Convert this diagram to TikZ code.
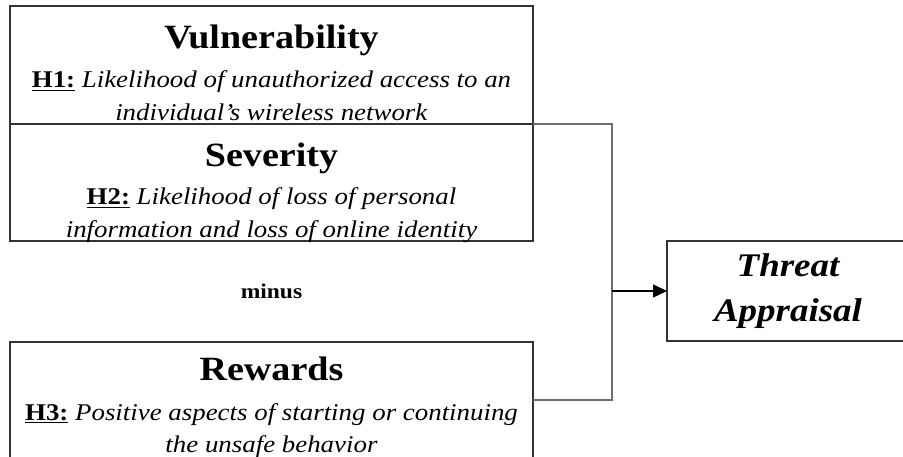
\documentclass[tikz,border=0pt]{standalone}
\usepackage{fontspec}
\setmainfont{Liberation Serif}[FakeStretch=1.12]
\usetikzlibrary{arrows.meta}
\definecolor{boxline}{HTML}{333333}
\definecolor{connline}{HTML}{6E6E6E}
\tikzset{
  box/.style={draw=boxline, line width=1.6pt, rectangle, inner sep=0pt, outer sep=0pt, anchor=north west, minimum width=523pt, minimum height=118pt},
  title/.style={anchor=base, inner sep=0pt, font=\fontsize{34}{36}\selectfont\bfseries},
  body/.style={anchor=base, inner sep=0pt, font=\fontsize{24}{28}\selectfont},
  conn/.style={draw=connline, line width=1.5pt},
  arr/.style={draw=black, line width=1.5pt, -{Triangle[length=14pt,width=13pt]}},
}
\newcommand{\hyp}[1]{\textbf{\underline{#1}}}
\begin{document}
\begin{tikzpicture}[x=1pt,y=-1pt]
\useasboundingbox (0,0) rectangle (903,457);
\clip (0,0) rectangle (903,457);
% boxes
\node[box] (vul) at (10,6) {};
\node[box, minimum height=117pt] (sev) at (10,124) {};
\node[box, minimum height=116pt] (rew) at (10,342) {};
\node[box, minimum width=248pt, minimum height=100pt] (thr) at (667,241) {};
% texts
\node[title] (vulT) at (271.5,49) {Vulnerability};
\node[body] (vulA) at (271.5,88) {\hyp{H1:} \textit{Likelihood of unauthorized access to an}};
\node[body] (vulB) at (271.5,121) {\textit{individual’s wireless network}};
\node[title] (sevT) at (271.5,167) {Severity};
\node[body] (sevA) at (271.5,205) {\hyp{H2:} \textit{Likelihood of loss of personal}};
\node[body] (sevB) at (271.5,238) {\textit{information and loss of online identity}};
\node[anchor=base, inner sep=0pt, font=\fontsize{21}{24}\selectfont\bfseries] (minus) at (271.5,299) {minus};
\node[title] (rewT) at (271.5,381) {Rewards};
\node[body] (rewA) at (271.5,420) {\hyp{H3:} \textit{Positive aspects of starting or continuing}};
\node[body] (rewB) at (271.5,452) {\textit{the unsafe behavior}};
\node[anchor=base, inner sep=0pt, font=\fontsize{33}{36}\selectfont\bfseries\itshape] (thrA) at (788,277) {Threat};
\node[anchor=base, inner sep=0pt, font=\fontsize{33}{36}\selectfont\bfseries\itshape] (thrB) at (788,322) {Appraisal};
% connectors
\coordinate (jt) at (612,124);
\coordinate (jb) at (612,400);
\draw[conn] (vul.south east) -- (jt) -- (jb) -- (rew.east);
\draw[arr] (jt|-thr.west) -- (thr.west);
\end{tikzpicture}
\end{document}
